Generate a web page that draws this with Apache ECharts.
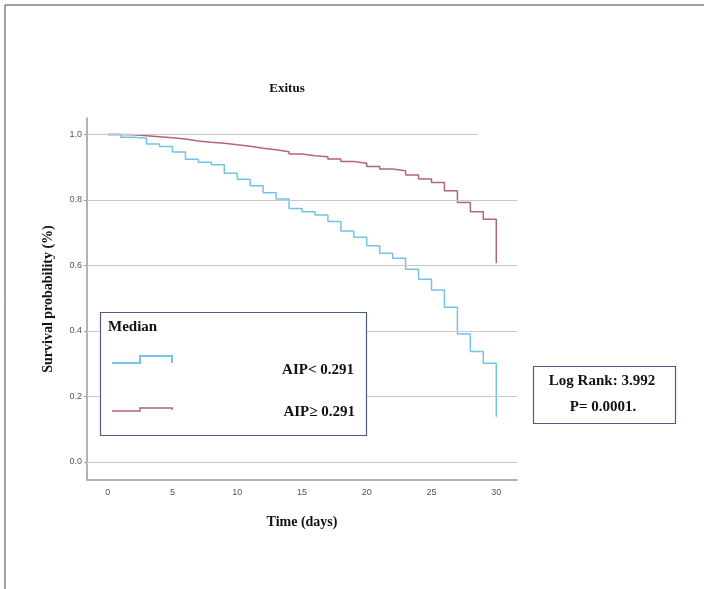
<!DOCTYPE html>
<html>
<head>
<meta charset="utf-8">
<script src="https://cdn.jsdelivr.net/npm/echarts@6/dist/echarts.min.js"></script>
<style>
  html, body { margin: 0; padding: 0; background: #fff; }
  #main { width: 704px; height: 589px; }
</style>
</head>
<body>
<div id="main"></div>
<script>
// follow-up days
const days = [0, 1, 2, 3, 4, 5, 6, 7, 8, 9, 10, 11, 12, 13, 14, 15, 16, 17, 18, 19, 20,
  21, 22, 23, 24, 25, 26, 27, 28, 29, 30];
// survival, AIP < 0.291
const lowAip = [1.0, 0.991, 0.988, 0.971, 0.963, 0.946, 0.924, 0.915, 0.907, 0.881, 0.863,
  0.843, 0.822, 0.803, 0.774, 0.764, 0.754, 0.734, 0.705, 0.686, 0.660,
  0.637, 0.622, 0.588, 0.558, 0.525, 0.472, 0.391, 0.337, 0.301, 0.138];
// survival, AIP >= 0.291
const highAip = [1.0, 0.999, 0.996, 0.993, 0.990, 0.986, 0.980, 0.976, 0.973, 0.968, 0.964,
  0.958, 0.953, 0.947, 0.940, 0.935, 0.932, 0.925, 0.917, 0.912, 0.902,
  0.894, 0.889, 0.876, 0.864, 0.853, 0.828, 0.792, 0.764, 0.741, 0.607];
const xTicks = [0, 5, 10, 15, 20, 25, 30];
const yTicks = [0, 0.2, 0.4, 0.6, 0.8, 1.0];
const seriesNames = ['AIP< 0.291', 'AIP\u2265 0.291'];

const serif = '"Liberation Serif", "DejaVu Serif", serif';
const sans = '"Liberation Sans", Arial, sans-serif';
const xMin = -1.6, xMax = 31.6;

const chart = echarts.init(document.getElementById('main'));

// horizontal reference lines (top one stops short, like the original)
const gridLines = yTicks.map(v => v === 1.0
  ? [{ coord: [xMin, v] }, { coord: [28.6, v] }]
  : [{ coord: [xMin, v] }, { coord: [xMax, v] }]);

chart.setOption({
  animation: false,
  title: {
    text: 'Exitus',
    left: 282,
    top: 77,
    textAlign: 'center',
    textStyle: { fontFamily: serif, fontWeight: 'bold', fontSize: 13, color: '#111' }
  },
  grid: { left: 87, right: 187, top: 118, bottom: 109 },
  xAxis: {
    type: 'value',
    min: xMin,
    max: xMax,
    name: 'Time (days)',
    nameLocation: 'middle',
    nameGap: 35,
    nameTextStyle: { fontFamily: serif, fontWeight: 'bold', fontSize: 14, color: '#111' },
    axisLine: { onZero: false, lineStyle: { color: '#9a9a9a', width: 1.5 } },
    axisTick: { show: false },
    splitLine: { show: false },
    axisLabel: {
      customValues: xTicks,
      color: '#555',
      fontSize: 9,
      fontFamily: sans,
      margin: 8
    }
  },
  yAxis: {
    type: 'value',
    min: -0.055,
    max: 1.05,
    name: 'Survival probability (%)',
    nameLocation: 'middle',
    nameGap: 32,
    nameTextStyle: { fontFamily: serif, fontWeight: 'bold', fontSize: 14, color: '#111' },
    axisLine: { show: true, onZero: false, lineStyle: { color: '#9a9a9a', width: 1.5 } },
    axisTick: { show: true, customValues: yTicks, length: 3, lineStyle: { color: '#9a9a9a' } },
    splitLine: { show: false },
    axisLabel: {
      customValues: yTicks,
      formatter: v => v.toFixed(1),
      color: '#555',
      fontSize: 9,
      fontFamily: sans,
      margin: 5
    }
  },
  series: [
    {
      name: 'grid',
      type: 'line',
      data: [],
      silent: true,
      z: 1,
      markLine: {
        silent: true,
        symbol: 'none',
        label: { show: false },
        lineStyle: { color: '#c9c9c9', width: 1, type: 'solid' },
        data: gridLines
      }
    },
    {
      name: seriesNames[0],
      type: 'line',
      step: 'end',
      showSymbol: false,
      z: 3,
      lineStyle: { color: '#74c3ea', width: 1.5 },
      itemStyle: { color: '#74c3ea' },
      data: days.map((d, i) => [d, lowAip[i]])
    },
    {
      name: seriesNames[1],
      type: 'line',
      step: 'end',
      showSymbol: false,
      z: 3,
      lineStyle: { color: '#b5627c', width: 1.5 },
      itemStyle: { color: '#b5627c' },
      data: days.map((d, i) => [d, highAip[i]])
    }
  ],
  graphic: [
    // page frame
    { type: 'rect', shape: { x: 5, y: 5, width: 800, height: 700 },
      style: { fill: 'none', stroke: '#444', lineWidth: 1 }, silent: true },
    // legend box
    { type: 'rect', shape: { x: 100.5, y: 312.5, width: 266, height: 123 },
      style: { fill: '#fff', stroke: '#4f5d82', lineWidth: 1.2 }, z: 10 },
    { type: 'text', left: 108, top: 320, z: 11,
      style: { text: 'Median', font: 'bold 15px ' + serif, fill: '#111' } },
    { type: 'polyline', z: 11,
      shape: { points: [[112, 363], [140, 363], [140, 356], [172, 356], [172, 363]] },
      style: { stroke: '#74c3ea', lineWidth: 2, fill: 'none' } },
    { type: 'polyline', z: 11,
      shape: { points: [[112, 411], [140, 411], [140, 408], [172, 408], [172, 410]] },
      style: { stroke: '#b5627c', lineWidth: 1.5, fill: 'none' } },
    { type: 'text', z: 11, x: 354, y: 370,
      style: { text: seriesNames[0], font: 'bold 15px ' + serif, fill: '#111',
        textAlign: 'right', textVerticalAlign: 'middle' } },
    { type: 'text', z: 11, x: 355, y: 412,
      style: { text: seriesNames[1], font: 'bold 15px ' + serif, fill: '#111',
        textAlign: 'right', textVerticalAlign: 'middle' } },
    // log rank box
    { type: 'rect', shape: { x: 533.5, y: 366.5, width: 142, height: 57 },
      style: { fill: '#fff', stroke: '#4f5d82', lineWidth: 1.2 }, z: 10 },
    { type: 'text', z: 11, x: 602, y: 381,
      style: { text: 'Log Rank: 3.992', font: 'bold 15px ' + serif, fill: '#111',
        textAlign: 'center', textVerticalAlign: 'middle' } },
    { type: 'text', z: 11, x: 603, y: 407,
      style: { text: 'P= 0.0001.', font: 'bold 15px ' + serif, fill: '#111',
        textAlign: 'center', textVerticalAlign: 'middle' } }
  ]
});
</script>
</body>
</html>
